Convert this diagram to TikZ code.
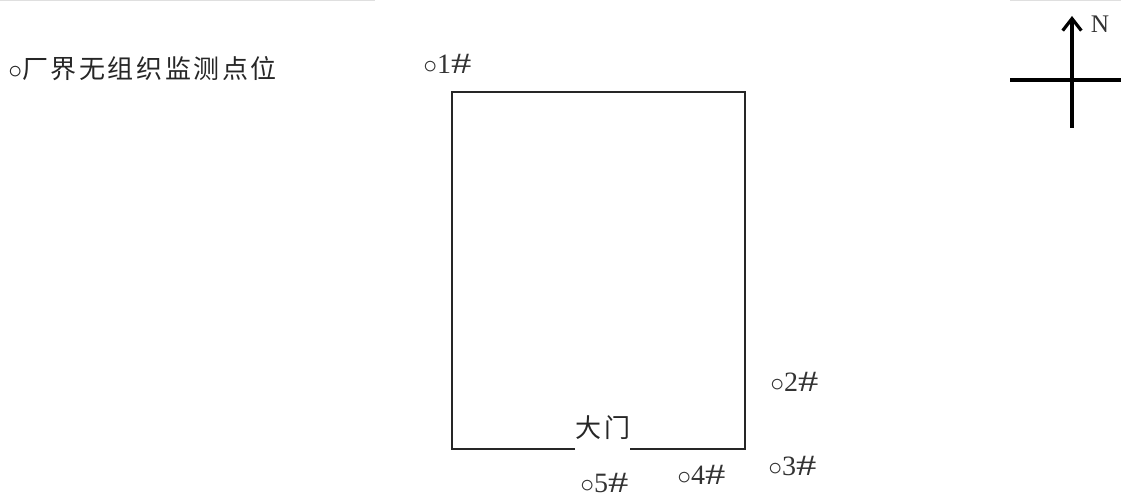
\documentclass[tikz,border=0pt]{standalone}
\usepackage{fontspec}
\setmainfont{Liberation Serif}
\newfontfamily\cjk[LetterSpace=10]{Noto Sans CJK SC}
\usetikzlibrary{arrows.meta}
\newcommand{\hashmark}{\scalebox{1.45}[1.05]{\#}}
\begin{document}
\begin{tikzpicture}[x=0.75pt,y=-0.75pt,
  wall/.style={line width=1.3pt, draw=black!85},
  pt/.style={font=\fontsize{21}{23}\selectfont, inner sep=0pt, anchor=west, text=black!80},
  zh/.style={font=\cjk\fontsize{19.5}{21}\selectfont, inner sep=0pt, text=black!85},
  compass/.style={line width=2.4pt, draw=black}]
\useasboundingbox (0,0) rectangle (1121,498);
\draw[gray!25, line width=0.8pt] (0,0.5) -- (375,0.5) (1010,0.5) -- (1121,0.5);
% legend
\node[zh, anchor=west] (legend) at (8,69) {$\circ$厂界无组织监测点位};
% site outline
\coordinate (tl) at (452,92);
\coordinate (tr) at (745,92);
\coordinate (br) at (745,449);
\coordinate (bl) at (452,449);
\coordinate (gl) at (575,449);
\coordinate (gr) at (630,449);
\draw[wall] (gl) -- (bl) -- (tl) -- (tr) -- (br) -- (gr);
\node[zh] (gate) at (603,428) {大门};
% monitoring points
\node[pt] (p1) at (423,64) {$\circ$1\hashmark};
\node[pt] (p2) at (770,382) {$\circ$2\hashmark};
\node[pt] (p3) at (768,466) {$\circ$3\hashmark};
\node[pt] (p4) at (677,475) {$\circ$4\hashmark};
\node[pt] (p5) at (580,483) {$\circ$5\hashmark};
% compass
\coordinate (ntop) at (1072,16);
\coordinate (nbot) at (1072,128);
\coordinate (wl) at (1010,80);
\coordinate (er) at (1121,80);
\draw[compass, -{Straight Barb[length=9pt,width=14pt]}] (nbot) -- (ntop);
\draw[compass] (wl) -- (er);
\node[font=\fontsize{19}{20}\selectfont, inner sep=0pt, text=black!80] (N) at (1100,24) {N};
\end{tikzpicture}
\end{document}
